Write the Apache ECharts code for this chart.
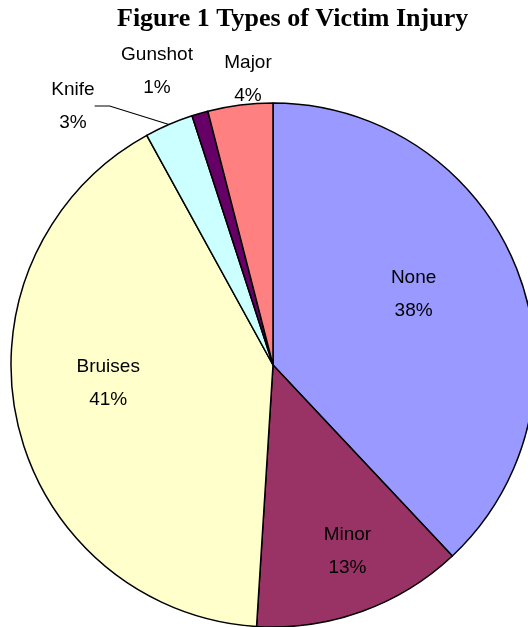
<!DOCTYPE html>
<html><head><meta charset="utf-8">
<script src="https://cdn.jsdelivr.net/npm/echarts@6/dist/echarts.min.js"></script>
<style>html,body{margin:0;padding:0;background:#fff}#c{width:528px;height:627px}</style>
</head><body><div id="c"></div>
<script>
const categories = ['None', 'Minor', 'Bruises', 'Knife', 'Gunshot', 'Major'];
const values = [38, 13, 41, 3, 1, 4];
const colors = ['#9999FF', '#993366', '#FFFFCC', '#CCFFFF', '#660066', '#FF8080'];
const titleText = 'Figure 1 Types of Victim Injury';

// label placement tweaks (offsets / anchor points for labels only)
const labelAdjust = [
  {dx: 16, dy: -21},
  {dx: 29, dy: 60},
  {dx: -34, dy: -11},
  {x: 73, y: 106},
  {x: 157, y: 71},
  {x: 248, y: 79}
];

const chart = echarts.init(document.getElementById('c'));
chart.setOption({
  animation: false,
  backgroundColor: '#fff',
  title: {
    text: titleText,
    left: 112, top: 1,
    textStyle: {fontFamily: 'Liberation Serif', fontWeight: 'bold', fontSize: 26, color: '#000'}
  },
  series: [{
    type: 'pie',
    center: [273, 365],
    radius: 262,
    startAngle: 90,
    clockwise: true,
    percentPrecision: 0,
    avoidLabelOverlap: false,
    itemStyle: {borderColor: '#000', borderWidth: 1.5},
    emphasis: {disabled: true},
    label: {
      formatter: '{b}\n{d}%',
      fontFamily: 'Liberation Sans', fontSize: 19, color: '#000',
      lineHeight: 33, align: 'center'
    },
    labelLine: {show: false},
    labelLayout: function (p) {
      const a = labelAdjust[p.dataIndex];
      if (a.x !== undefined) return {x: a.x, y: a.y, align: 'center', verticalAlign: 'middle'};
      return {dx: a.dx, dy: a.dy};
    },
    data: categories.map((c, i) => {
      const d = {name: c, value: values[i], itemStyle: {color: colors[i]}};
      if (i < 3) d.label = {position: 'inside'};
      else d.label = {position: 'outside'};
      if (i === 3) d.labelLine = {show: true, length: 20, length2: 15, lineStyle: {color: '#000', width: 1.2}};
      return d;
    })
  }]
});
</script></body></html>
